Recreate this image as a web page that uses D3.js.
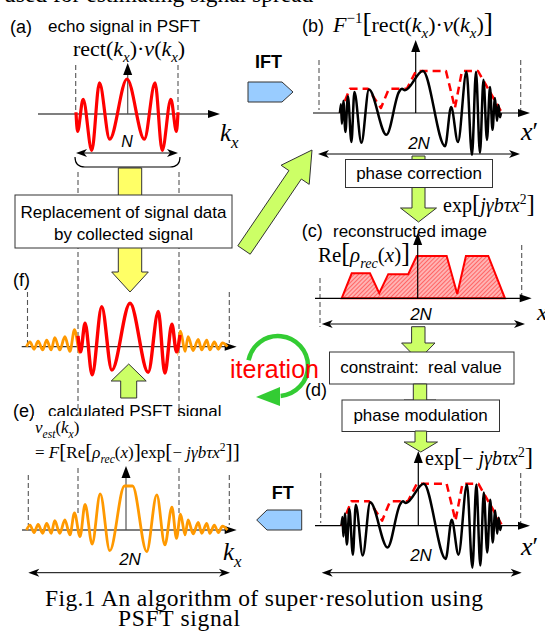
<!DOCTYPE html>
<html>
<head>
<meta charset="utf-8">
<script src="https://cdn.jsdelivr.net/npm/d3@7"></script>
<style>
body { margin: 0; background: #fff; }
text { font-family: "Liberation Sans", Arial, sans-serif; }
.m { font-family: "Liberation Serif", "Times New Roman", serif; }
</style>
</head>
<body>
<script>
// extrema: [position, amplitude]
// (a) echo signal, k_x in units of N/2
const echoA = [[-1, 0.05], [-0.97, -0.5], [-0.86, 0.42], [-0.69, -1.04], [-0.54, 0.89], [-0.34, -0.72], [0, 1],
  [0.34, -0.72], [0.55, 0.89], [0.69, -1.04], [0.86, 0.42], [0.97, -0.5], [1, 0.05]];
// (f) replaced signal (red part)
const echoF = [[-1, 0.25], [-0.95, -0.12], [-0.86, 0.54], [-0.72, -0.65], [-0.53, 0.92], [-0.33, -0.54], [0.03, 1],
  [0.39, -0.59], [0.59, 0.81], [0.72, -0.61], [0.86, 0.52], [0.95, -0.12], [1.02, 0.27]];
// (e) calculated PSFT signal
const psftE = [[-2.02, 0], [-1.95, 0.11], [-1.87, -0.06], [-1.79, 0.13], [-1.70, -0.075], [-1.62, 0.15], [-1.53, -0.075],
  [-1.46, 0.21], [-1.36, -0.075], [-1.26, 0.23], [-1.16, -0.11], [-1.07, 0.39], [-0.96, -0.15], [-0.86, 0.58],
  [-0.72, -0.32], [-0.56, 0.82], [-0.37, -0.47], [-0.08, 1], [0.08, 1], [0.36, -0.49], [0.56, 0.80], [0.72, -0.34],
  [0.86, 0.52], [0.95, -0.19], [1.03, 0.36], [1.12, -0.11], [1.18, 0.23], [1.28, -0.09], [1.38, 0.17], [1.45, -0.075],
  [1.55, 0.15], [1.61, -0.075], [1.70, 0.11], [1.78, -0.06], [1.86, 0.09], [1.96, 0]];
// (b)/(d) image before phase correction, x' in units of N/2
const imgWave = [[-1.585, 0], [-1.565, 0.21], [-1.546, -0.26], [-1.516, 0.29], [-1.476, -0.45], [-1.427, 0.40],
  [-1.357, -0.69], [-1.298, 0.5], [-1.159, -0.71], [-1.01, 0.56], [-0.663, -0.52], [-0.415, 0.5], [-0.355, 0.58],
  [-0.296, 0.54], [0.06, 1.0], [0.50, -0.79], [0.62, 0.14], [0.756, -0.69], [0.925, 0.98], [1.034, -1.0],
  [1.113, 0.98], [1.192, -0.95], [1.262, 0.79], [1.331, -0.64], [1.391, 0.62], [1.44, -0.40], [1.49, 0.36],
  [1.53, -0.19], [1.56, 0.19], [1.589, -0.1], [1.609, 0]];
// envelope (red dashed)
const imgEnv = [[-1.585, 0], [-1.387, 0.58], [-1.03, 0.58], [-0.772, 0.12], [-0.613, 0.58], [-0.256, 0.58],
  [-0.077, 1.0], [0.518, 1.0], [0.696, 0.12], [0.835, 1.0], [1.153, 1.0], [1.629, 0]];
// (c) reconstructed image
const recImage = [[-1.57, 0], [-1.371, 0.59], [-1.009, 0.59], [-0.825, 0.12], [-0.646, 0.57], [-0.25, 0.57],
  [-0.083, 1.0], [0.512, 1.0], [0.722, 0.10], [0.894, 1.0], [1.337, 1.0], [1.668, 0]];

const RED = "#ff0000", ORANGE = "#ff9900", LIME = "#ccff66", YELLOW = "#ffff66", BLUE = "#99ccff";

const svg = d3.select("body").append("svg").attr("width", 545).attr("height", 631);
const defs = svg.append("defs");
const pat = defs.append("pattern").attr("id", "hatch").attr("patternUnits", "userSpaceOnUse")
  .attr("width", 3).attr("height", 3).attr("patternTransform", "rotate(45)");
pat.append("rect").attr("width", 3).attr("height", 3).attr("fill", "#ffb3b3");
pat.append("line").attr("x1", 0).attr("y1", 0).attr("x2", 0).attr("y2", 3)
  .attr("stroke", "#ff3030").attr("stroke-width", 1.2);

// panel scales
const xA = d3.scaleLinear().domain([-1, 1]).range([76, 178]);
const yA = d3.scaleLinear().domain([-1, 1]).range([149, 79]);
const xF = d3.scaleLinear().domain([-2, 2]).range([27.5, 229.5]);
const yF = d3.scaleLinear().domain([-1, 1]).range([390.1, 303.3]);
const xE = d3.scaleLinear().domain([-2, 2]).range([27.5, 229.5]);
const yE = d3.scaleLinear().domain([-1, 1]).range([574, 486]);
const xB = d3.scaleLinear().domain([-2, 2]).range([319, 520.7]);
const yB = d3.scaleLinear().domain([-1, 1]).range([155, 71]);
const xC = d3.scaleLinear().domain([-2, 2]).range([320, 521.7]);
const yC = d3.scaleLinear().domain([-1, 1]).range([340.6, 256]);
const xD = d3.scaleLinear().domain([-2, 2]).range([320.7, 520.7]);
const yD = d3.scaleLinear().domain([-1, 1]).range([567.7, 483.7]);

// orange in (f) only shows outside the replaced band
const clip = defs.append("clipPath").attr("id", "outsideN");
clip.append("rect").attr("x", 0).attr("y", 280).attr("width", xF(-0.97)).attr("height", 120);
clip.append("rect").attr("x", xF(0.97)).attr("y", 280).attr("width", 545 - xF(0.97)).attr("height", 120);

// ---- helpers ----
function seg(x1, y1, x2, y2, col, w, dash) {
  return svg.append("line").attr("x1", x1).attr("y1", y1).attr("x2", x2).attr("y2", y2)
    .attr("stroke", col || "#000").attr("stroke-width", w || 1).attr("stroke-dasharray", dash || null);
}
function head(x, y, dx, dy, len, half) {
  const nx = -dy, ny = dx;
  const bx = x - dx * len, by = y - dy * len;
  svg.append("polygon").attr("points", [[x, y], [bx + nx * half, by + ny * half], [bx - nx * half, by - ny * half]]
    .map(p => p.join(",")).join(" ")).attr("fill", "#000");
}
function hAxis(x1, x2, y, col) {
  seg(x1, y, x2 - 8, y, col || "#000", 1.2);
  head(x2, y, 1, 0, 12, 4);
}
function vAxis(x, y1, y2, col) {
  seg(x, y1, x, y2 + 8, col || "#000", 1.2);
  head(x, y2, 0, -1, 12, 4.5);
}
function dbl(x1, x2, y) {
  seg(x1 + 4, y, x2 - 4, y, "#000", 1);
  [[x1, -1], [x2, 1]].forEach(([x, d]) => {
    svg.append("path").attr("d", `M${x},${y} L${x - d * 11},${y - 4} L${x - d * 8},${y} L${x - d * 11},${y + 4}Z`)
      .attr("fill", "#000");
  });
}
function dashV(x, y1, y2) { seg(x, y1, x, y2, "#555", 1.1, "5,3"); }
function wave(data, xs, ys, col, w, dash, curve) {
  return svg.append("path").datum(data)
    .attr("d", d3.line().x(d => xs(d[0])).y(d => ys(d[1])).curve(curve || d3.curveMonotoneX))
    .attr("fill", "none").attr("stroke", col).attr("stroke-width", w)
    .attr("stroke-linejoin", "round").attr("stroke-dasharray", dash || null);
}
function blockArrow(x1, y1, x2, y2, sw, hw, hl, fill) {
  const L = Math.hypot(x2 - x1, y2 - y1), ux = (x2 - x1) / L, uy = (y2 - y1) / L;
  const nx = -uy, ny = ux, bx = x2 - ux * hl, by = y2 - uy * hl;
  const pts = [[x1 + nx * sw, y1 + ny * sw], [bx + nx * sw, by + ny * sw], [bx + nx * hw, by + ny * hw], [x2, y2],
    [bx - nx * hw, by - ny * hw], [bx - nx * sw, by - ny * sw], [x1 - nx * sw, y1 - ny * sw]];
  svg.append("polygon").attr("points", pts.map(p => p.join(",")).join(" "))
    .attr("fill", fill).attr("stroke", "#333").attr("stroke-width", 1);
}
function box(x, y, w, h) {
  svg.append("rect").attr("x", x).attr("y", y).attr("width", w).attr("height", h)
    .attr("fill", "#fff").attr("stroke", "#333").attr("stroke-width", 1);
}
function label(x, y, s, size, opts) {
  const t = svg.append("text").attr("x", x).attr("y", y).attr("font-size", size || 17).text(s)
    .style("white-space", "pre");
  if (opts) Object.keys(opts).forEach(k => t.attr(k, opts[k]));
  return t;
}
// math text: parts are strings or {t, it, sub, sup, big}
function math(x, y, size, parts) {
  const t = svg.append("text").attr("class", "m").attr("x", x).attr("y", y).attr("font-size", size);
  let shift = 0;
  parts.forEach(p => {
    const s = typeof p === "string" ? { t: p } : p;
    const target = s.sub ? size * 0.28 : s.sup ? -size * 0.4 : 0;
    const ts = t.append("tspan").text(s.t).attr("dy", target - shift).style("white-space", "pre");
    shift = target;
    if (s.it) ts.attr("font-style", "italic");
    if (s.sub || s.sup) ts.attr("font-size", size * 0.68);
    if (s.big) ts.attr("font-size", size * 1.25).attr("font-weight", 100);
  });
  return t;
}

// line of running text above the figure, cut by the top edge
svg.append("text").attr("class", "m").attr("x", 4).attr("y", 1.5).attr("font-size", 23.5)
  .text("used for estimating signal spread");

// ---- long guide lines and left column arrows ----
dashV(78, 172, 513);
dashV(179, 172, 516);
blockArrow(130, 168, 130, 292, 11.7, 18.3, 20, YELLOW);
blockArrow(244, 250, 312, 150, 7.5, 17, 30, LIME);
box(15, 195, 217, 53);
label(123.5, 218, "Replacement of signal data", 17, { "text-anchor": "middle" });
label(123.5, 240, "by collected signal", 17, { "text-anchor": "middle" });

// ---- (a) echo signal ----
label(10, 33, "(a)", 18);
label(48, 32, "echo signal in PSFT", 17);
math(73, 56, 22, ["rect(", { t: "k", it: 1 }, { t: "x", it: 1, sub: 1 }, ")·", { t: "v", it: 1 }, "(",
  { t: "k", it: 1 }, { t: "x", it: 1, sub: 1 }, ")"]);
dashV(75.7, 65, 112);
dashV(178, 65, 112);
hAxis(38, 220, yA(0));
vAxis(127.7, yA(0), 63, "#555");
wave(echoA, xA, yA, RED, 3.2);
label(127, 147, "N", 16, { "text-anchor": "middle", "font-style": "italic" });
dbl(xA(-1), xA(1), 153);
svg.append("path").attr("d", "M75,157 Q75,167 85,167 L170,167 Q180,167 180,157")
  .attr("fill", "none").attr("stroke", "#000").attr("stroke-width", 1.2);
math(220, 141, 25, [{ t: "k", it: 1 }, { t: "x", it: 1, sub: 1 }]);

// IFT arrow
label(255, 68, "IFT", 18, { "font-weight": "bold" });
svg.append("polygon").attr("points", "248,82 282,82 293,92 282,102 248,102")
  .attr("fill", BLUE).attr("stroke", "#333").attr("stroke-width", 1);

// ---- (b) ----
label(302, 32, "(b)", 18);
math(333, 32, 22, [{ t: "F", it: 1 }, { t: "−1", sup: 1 }, { t: "[", big: 1 }, "rect(", { t: "k", it: 1 },
  { t: "x", it: 1, sub: 1 }, ")·", { t: "v", it: 1 }, "(", { t: "k", it: 1 }, { t: "x", it: 1, sub: 1 }, ")",
  { t: "]", big: 1 }]);
dashV(319, 60, 110);
dashV(520.7, 60, 110);
hAxis(313, 530, yB(0));
vAxis(415.7, yB(0), 40);
wave(imgEnv, xB, yB, RED, 2.5, "8,5", d3.curveLinear);
wave(imgWave, xB, yB, "#000", 2.5);
math(521, 140, 26, [{ t: "x", it: 1 }, "′"]);

// green arrow + phase correction
blockArrow(418.5, 156, 418.5, 222, 6.5, 18, 14, LIME);
label(419, 149, "2N", 17, { "text-anchor": "middle", "font-style": "italic" });
dbl(318, 520, 154);
box(345.5, 159.5, 147, 28);
label(419, 179, "phase correction", 17, { "text-anchor": "middle" });
math(443, 212, 20, ["exp", { t: "[", big: 1 }, { t: "jγbτx", it: 1 }, { t: "2", sup: 1 }, { t: "]", big: 1 }]);

// ---- (c) reconstructed image ----
label(301.7, 237, "(c)", 18);
label(333, 237, "reconstructed image", 17);
dashV(320, 278, 327);
dashV(521.7, 245, 301);
svg.append("path").datum(recImage)
  .attr("d", d3.area().x(d => xC(d[0])).y0(yC(0)).y1(d => yC(d[1])))
  .attr("fill", "url(#hatch)").attr("stroke", RED).attr("stroke-width", 2);
hAxis(315, 531.7, yC(0));
vAxis(417.7, yC(0), 233);
math(318, 262, 21, ["Re", { t: "[", big: 1 }, { t: "ρ", it: 1 }, { t: "rec", it: 1, sub: 1 }, "(", { t: "x", it: 1 },
  ")", { t: "]", big: 1 }]);
label(421, 320, "2N", 17, { "text-anchor": "middle", "font-style": "italic" });
dbl(321.7, 525, 324);
math(537, 320, 24, [{ t: "x", it: 1 }]);

// arrows and boxes between (c) and (d)
blockArrow(418.3, 326.7, 418.3, 360, 6.7, 16.7, 17, LIME);
box(329.5, 352, 184.5, 32);
label(421, 373, "constraint:  real value", 17, { "text-anchor": "middle" });
blockArrow(420, 384, 420, 412, 6.7, 16, 12, LIME);
box(342, 400, 157.5, 31.5);
label(420.5, 421, "phase modulation", 17, { "text-anchor": "middle" });
blockArrow(420.8, 431, 420.8, 452, 5.8, 16.7, 10, LIME);
label(305, 396, "(d)", 18);

// ---- (d) ----
dashV(320.7, 473, 523);
dashV(520.7, 473, 523);
hAxis(315, 530, yD(0));
vAxis(418.3, yD(0), 451);
math(425, 465, 20, ["exp", { t: "[", big: 1 }, "− ", { t: "jγbτx", it: 1 }, { t: "2", sup: 1 }, { t: "]", big: 1 }]);
wave(imgEnv, xD, yD, RED, 2.5, "8,5", d3.curveLinear);
wave(imgWave, xD, yD, "#000", 2.5);
label(421, 561, "2N", 17, { "text-anchor": "middle", "font-style": "italic" });
dbl(321.7, 521.7, 572.7);
math(521, 555, 26, [{ t: "x", it: 1 }, "′"]);

// ---- (f) ----
label(13, 286, "(f)", 18);
dashV(27.5, 292, 343);
dashV(229.3, 292, 343);
hAxis(21.7, 236.7, yF(0), "#333");
wave(psftE, xF, yF, ORANGE, 2.8).attr("clip-path", "url(#outsideN)");
wave(echoF, xF, yF, RED, 3.4);
blockArrow(128.7, 398, 128.7, 364, 8, 17.5, 17, LIME);

// iteration loop
const loop = d3.path();
loop.arc(278, 366, 30, 191 * Math.PI / 180, 445 * Math.PI / 180);
svg.append("path").attr("d", loop.toString()).attr("fill", "none").attr("stroke", "#33cc33").attr("stroke-width", 4.5);
svg.append("polygon").attr("points", "280,387 280,406 256,397").attr("fill", "#33cc33");
label(230, 378, "iteration", 25, { fill: RED });

// ---- (e) ----
label(13, 417, "(e)", 18);
label(48, 417, "calculated PSFT signal", 17);
svg.append("rect").attr("x", 33).attr("y", 416).attr("width", 192).attr("height", 50).attr("fill", "#fff");
math(35, 433, 17, [{ t: "v", it: 1 }, { t: "est", it: 1, sub: 1 }, "(", { t: "k", it: 1 }, { t: "x", it: 1, sub: 1 }, ")"]);
math(35, 458, 17, ["= ", { t: "F", it: 1 }, { t: "[", big: 1 }, "Re", { t: "[", big: 1 }, { t: "ρ", it: 1 },
  { t: "rec", it: 1, sub: 1 }, "(", { t: "x", it: 1 }, ")", { t: "]", big: 1 }, "exp", { t: "[", big: 1 }, "− ",
  { t: "jγbτx", it: 1 }, { t: "2", sup: 1 }, { t: "]]", big: 1 }]);
dashV(28.3, 475, 525);
dashV(229.3, 475, 525);
hAxis(22, 236.7, yE(0));
vAxis(126, yE(0), 466, "#555");
wave(psftE, xE, yE, ORANGE, 2.8);
label(130, 565, "2N", 17, { "text-anchor": "middle", "font-style": "italic" });
dbl(28.3, 230, 572.7);
math(223, 560, 25, [{ t: "k", it: 1 }, { t: "x", it: 1, sub: 1 }]);

// FT arrow
label(271.7, 499, "FT", 18, { "font-weight": "bold" });
svg.append("polygon").attr("points", "301.7,510 267,510 256.7,520 267,530 301.7,530")
  .attr("fill", BLUE).attr("stroke", "#333").attr("stroke-width", 1);

// caption
svg.append("text").attr("class", "m").attr("x", 45).attr("y", 606).attr("font-size", 23.5)
  .attr("textLength", 438).attr("lengthAdjust", "spacing").text("Fig.1 An algorithm of super·resolution using");
svg.append("text").attr("class", "m").attr("x", 118).attr("y", 626).attr("font-size", 23.5)
  .attr("textLength", 122).attr("lengthAdjust", "spacing").text("PSFT signal");
</script>
</body>
</html>
